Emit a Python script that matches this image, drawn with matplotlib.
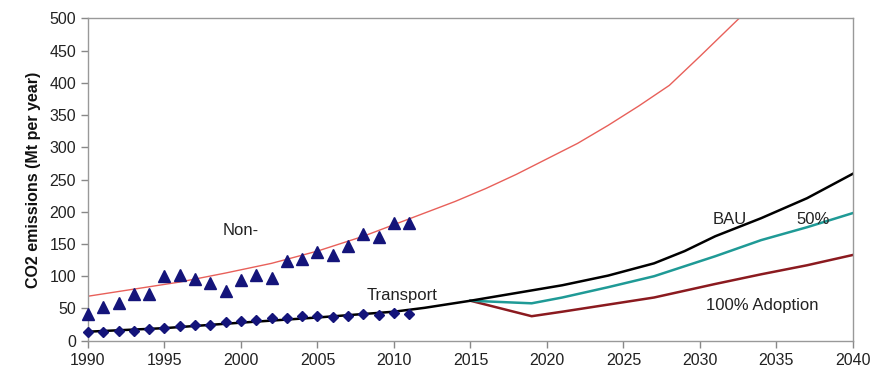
import matplotlib
matplotlib.use('Agg')
import matplotlib.pyplot as plt

plt.rcParams['font.family'] = ['Liberation Sans', 'DejaVu Sans']

# observed data points (Mt CO2 per year)
obs_years = list(range(1990, 2012))
non_transport = [41, 52, 59, 73, 73, 100, 102, 96, 89, 77, 94, 102, 98, 124,
                 126, 138, 133, 147, 165, 161, 182, 182]
transport = [14, 13.5, 15.5, 15.5, 17.6, 19, 23, 25, 24, 28.5, 30, 32, 35, 36,
             39, 39, 37, 39, 42, 40.5, 42.5, 42]

# non-transport trend (red)
nt_years = [1990, 1993, 1996, 1999, 2002, 2005, 2008, 2010, 2012, 2014, 2016,
            2018, 2020, 2022, 2024, 2026, 2028, 2030, 2032, 2033]
nt_trend = [69, 80, 91, 105, 120, 139, 162, 180, 198, 216, 236, 258, 282, 306,
            334, 364, 396, 441, 487, 510]

# transport trend + BAU (black)
bau_years = [1990, 1995, 2000, 2005, 2010, 2012, 2015, 2018, 2021, 2024, 2027,
             2029, 2031, 2034, 2037, 2040]
bau = [14, 19.5, 28, 36, 45, 51, 62, 74, 86, 101, 120, 139, 162, 190, 221, 259]

# adoption scenarios
sc_years = [2015, 2019, 2021, 2024, 2027, 2031, 2034, 2037, 2040]
adopt_50 = [62, 58, 67, 83, 100, 131, 156, 176, 198]
adopt_100 = [62, 38, 45, 56, 67, 88, 103, 117, 133]

fig = plt.figure(figsize=(8.73, 3.72), dpi=100)
ax = fig.add_axes([0.1008, 0.0841, 0.8762, 0.8667])

ax.plot(nt_years, nt_trend, color='#e8605a', lw=1.0)
ax.plot(sc_years, adopt_100, color='#8b1a1f', lw=1.8)
ax.plot(sc_years, adopt_50, color='#1f9a96', lw=1.8)
ax.plot(bau_years, bau, color='black', lw=1.8)

ax.plot(obs_years, non_transport, linestyle='none', marker='^', ms=8,
        color='#14147a', clip_on=False, zorder=4)
ax.plot(obs_years, transport, linestyle='none', marker='D', ms=5.5,
        color='#14147a', clip_on=False, zorder=4)

txt = dict(fontsize=12, color='#222222', va='center', ha='left')
ax.text(1998.8, 171, 'Non-', **txt)
ax.text(2008.2, 70, 'Transport', **txt)
ax.text(2030.8, 188, 'BAU', **txt)
ax.text(2036.3, 188, '50%', **txt)
ax.text(2030.4, 55, '100% Adoption', **txt)

ax.set_xlim(1990, 2040)
ax.set_ylim(0, 500)
ax.set_xticks(range(1990, 2041, 5))
ax.set_yticks(range(0, 501, 50))
ax.tick_params(direction='out', length=5, width=1, color='#888888',
               labelsize=11.5, labelcolor='#222222')
for sp in ax.spines.values():
    sp.set_color('#999999')
    sp.set_linewidth(1)

ax.set_ylabel('CO2 emissions (Mt per year)', fontsize=11.5, fontweight='bold',
              color='#111111', labelpad=6)

fig.savefig('out.png', dpi=100)
